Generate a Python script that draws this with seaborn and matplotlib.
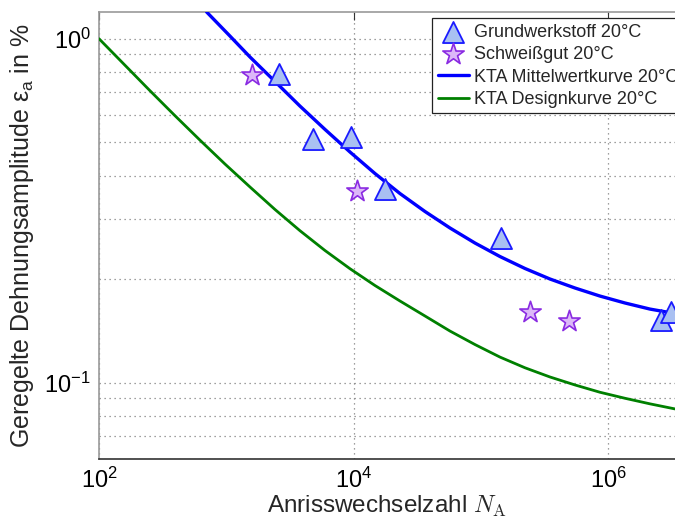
import numpy as np
import pandas as pd
import matplotlib
matplotlib.use("Agg")
import matplotlib.pyplot as plt
from matplotlib.ticker import FixedLocator, FuncFormatter, LogLocator, NullLocator, NullFormatter
import seaborn as sns

# Test results: crack initiation cycles N_A and controlled strain amplitude (%)
base_N = [2580, 4780, 9480, 17700, 143000, 2.60e6, 3.09e6]
base_eps = [0.79, 0.511, 0.519, 0.365, 0.264, 0.152, 0.161]

weld_N = [1590, 10600, 243000, 490000]
weld_eps = [0.786, 0.361, 0.161, 0.151]

# KTA mean curve at 20 °C
mean_N = [701, 1069, 1535, 2414, 3793, 5961, 9369, 14720, 23140, 36380,
          57190, 89890, 141300, 222100, 349000, 548700, 862300,
          1.355e6, 2.130e6, 3.348e6, 5.262e6]
mean_eps = [1.196, 1.018, 0.885, 0.751, 0.637, 0.545, 0.4685, 0.4057,
            0.3548, 0.3146, 0.2817, 0.2547, 0.2327, 0.2148, 0.2002,
            0.1885, 0.1786, 0.1705, 0.1637, 0.1589, 0.1537]

# KTA design curve at 20 °C
design_N = [100, 160, 251.5, 395.4, 621.5, 976.8, 1536, 2414, 3793, 5961,
            9369, 14720, 23140, 36380, 57190, 89890, 141300, 222100,
            349000, 548700, 862300, 1.355e6, 2.130e6, 3.348e6, 5.262e6]
design_eps = [1.0, 0.8374, 0.7061, 0.5973, 0.5071, 0.4322, 0.3706, 0.3188,
              0.2766, 0.2423, 0.2145, 0.1917, 0.1728, 0.1563, 0.1413,
              0.1291, 0.1187, 0.1105, 0.1039, 0.0985, 0.0938, 0.0901,
              0.0868, 0.0839, 0.0815]

labels = ["Grundwerkstoff 20°C", "Schweißgut 20°C",
          "KTA Mittelwertkurve 20°C", "KTA Designkurve 20°C"]

sns.set_theme(style="white")
plt.rcParams["font.family"] = ["Liberation Sans", "DejaVu Sans"]
plt.rcParams["mathtext.fontset"] = "custom"
plt.rcParams["mathtext.rm"] = "Liberation Sans"
plt.rcParams["mathtext.it"] = "Liberation Sans:italic"

fig = plt.figure(figsize=(6.75, 5.22), dpi=100)
ax = fig.add_axes([99 / 675, 1 - 459 / 522, (690 - 99) / 675, (459 - 12) / 522])

base = pd.DataFrame({"N": base_N, "eps": base_eps})
weld = pd.DataFrame({"N": weld_N, "eps": weld_eps})
mean = pd.DataFrame({"N": mean_N, "eps": mean_eps})
design = pd.DataFrame({"N": design_N, "eps": design_eps})

ax.set_xscale("log")
ax.set_yscale("log")

sns.scatterplot(data=base, x="N", y="eps", ax=ax, marker="^", s=230,
                color="#a9c0f2", edgecolor="#1a1aff", linewidth=1.3,
                label=labels[0], zorder=4)
sns.scatterplot(data=weld, x="N", y="eps", ax=ax, marker="*", s=260,
                color="#dcb8f8", edgecolor="#8a2be2", linewidth=1.2,
                label=labels[1], zorder=4)
sns.lineplot(data=mean, x="N", y="eps", ax=ax, color="#0000ff", lw=2.4,
             label=labels[2], zorder=3)
sns.lineplot(data=design, x="N", y="eps", ax=ax, color="#008000", lw=2.0,
             label=labels[3], zorder=3)

ax.set_xlim(1e2, 10 ** 6.643)
ax.set_ylim(0.06, 1.196)

ax.xaxis.set_major_locator(FixedLocator([1e2, 1e4, 1e6]))
ax.xaxis.set_minor_locator(NullLocator())
ax.yaxis.set_major_locator(FixedLocator([0.1, 1.0]))
ax.yaxis.set_minor_locator(LogLocator(base=10, subs=np.arange(2, 10)))
ax.yaxis.set_minor_formatter(NullFormatter())

def pow_fmt(v, pos):
    e = int(round(np.log10(v)))
    return r"$\mathregular{10^{%d}}$" % e

ax.xaxis.set_major_formatter(FuncFormatter(pow_fmt))
ax.yaxis.set_major_formatter(FuncFormatter(pow_fmt))

ax.grid(True, which="major", axis="both", color="#808080", linestyle=(0, (1, 3)), lw=0.9)
ax.grid(True, which="minor", axis="y", color="#808080", linestyle=(0, (1, 3)), lw=0.9)

ax.tick_params(axis="both", which="both", direction="in", top=True, right=True,
               labelsize=17, colors="#333333", labelcolor="black")
ax.tick_params(axis="both", which="major", length=6, width=0.8, pad=6)
ax.tick_params(axis="both", which="minor", length=3, width=0.6)

for side, col in (("left", "#999999"), ("top", "#999999"),
                  ("bottom", "#333333"), ("right", "#999999")):
    ax.spines[side].set_color(col)
    ax.spines[side].set_linewidth(1.2)

ax.set_xlabel(r"Anrisswechselzahl $N_\mathrm{A}$", fontsize=17.5,
              math_fontfamily="cm", labelpad=1)
ax.xaxis.label.set_x(0.487)
ax.set_ylabel(r"Geregelte Dehnungsamplitude ε$_\mathregular{a}$ in %",
              fontsize=18, labelpad=6)

leg = ax.legend(loc="upper right", fontsize=13, frameon=True, fancybox=False,
                edgecolor="#222222", framealpha=1, borderpad=0.3,
                labelspacing=0.3, handlelength=1.7, handletextpad=0.3,
                borderaxespad=0.35)
leg.get_frame().set_linewidth(0.9)

fig.savefig("out.png", dpi=100)
